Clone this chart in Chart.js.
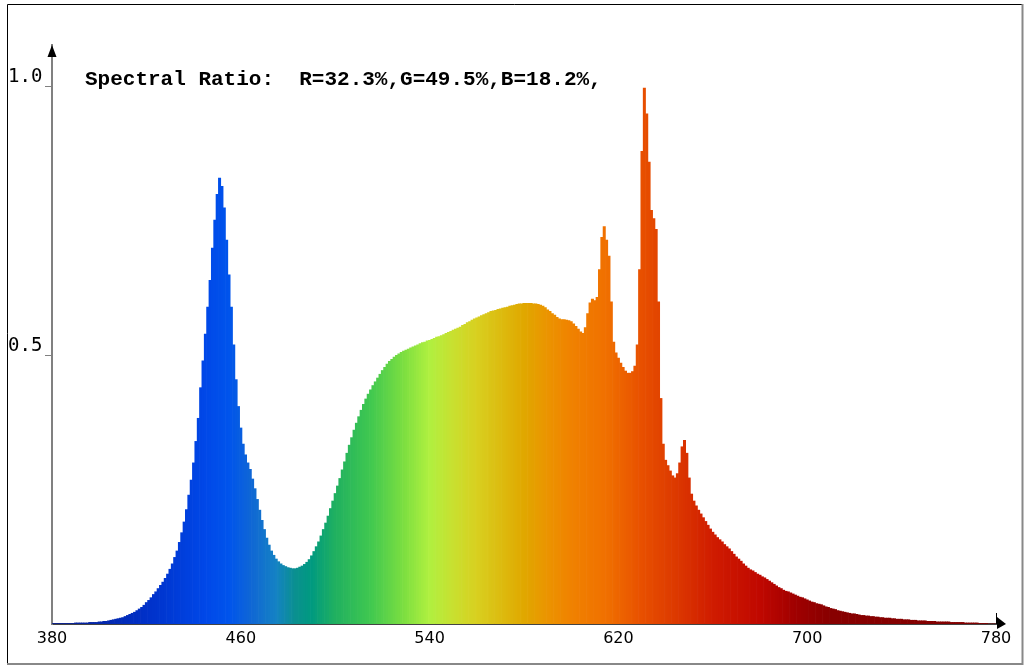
<!DOCTYPE html>
<html>
<head>
<meta charset="utf-8">
<script src="https://cdn.jsdelivr.net/npm/chart.js@4.4.0/dist/chart.umd.min.js"></script>
<style>
  html, body { margin: 0; padding: 0; background: #fff; }
  #wrap { width: 1025px; height: 669px; }
</style>
</head>
<body>
<div id="wrap"><canvas id="spectrumChart" width="1025" height="669"></canvas></div>
<script>
// wavelength range, nm
const wlStart = 380;
const wlEnd = 780;
const xTickLabels = [380, 460, 540, 620, 700, 780];
const yTickLabels = [0.5, 1.0];
const titleText = 'Spectral Ratio:  R=32.3%,G=49.5%,B=18.2%,';

// relative intensity, one value per nm (380..780)
const intensity380 = [0.001,0.001,0.001,0.001,0.001,0.001,0.001,0.001,0.001,0.001,0.002,0.002,0.002,0.002,0.002,0.002,0.003,0.003,0.003,0.003];
const intensity400 = [0.004,0.004,0.005,0.005,0.006,0.007,0.008,0.009,0.010,0.011,0.012,0.014,0.016,0.018,0.020,0.022,0.025,0.028,0.031,0.035];
const intensity420 = [0.040,0.044,0.049,0.055,0.060,0.066,0.072,0.078,0.085,0.093,0.102,0.112,0.124,0.136,0.152,0.170,0.190,0.213,0.240,0.268];
const intensity440 = [0.300,0.340,0.383,0.440,0.490,0.540,0.590,0.640,0.700,0.752,0.800,0.830,0.815,0.775,0.715,0.650,0.590,0.520,0.455,0.405];
const intensity460 = [0.365,0.335,0.315,0.300,0.288,0.270,0.252,0.232,0.212,0.193,0.176,0.160,0.147,0.136,0.128,0.121,0.116,0.112,0.109,0.107];
const intensity480 = [0.105,0.104,0.103,0.103,0.104,0.106,0.108,0.111,0.115,0.120,0.127,0.135,0.144,0.153,0.164,0.176,0.188,0.201,0.215,0.229];
const intensity500 = [0.243,0.257,0.271,0.287,0.302,0.318,0.333,0.347,0.361,0.374,0.386,0.398,0.409,0.419,0.428,0.436,0.444,0.451,0.458,0.465];
const intensity520 = [0.472,0.478,0.484,0.489,0.493,0.497,0.500,0.503,0.506,0.508,0.510,0.512,0.514,0.516,0.518,0.520,0.522,0.524,0.525,0.527];
const intensity540 = [0.528,0.530,0.532,0.534,0.535,0.537,0.539,0.541,0.543,0.545,0.547,0.549,0.551,0.553,0.556,0.558,0.561,0.563,0.566,0.568];
const intensity560 = [0.570,0.572,0.574,0.576,0.578,0.580,0.582,0.583,0.584,0.586,0.587,0.588,0.589,0.590,0.592,0.593,0.594,0.595,0.596,0.596];
const intensity580 = [0.597,0.597,0.597,0.597,0.596,0.596,0.595,0.594,0.592,0.589,0.585,0.582,0.578,0.575,0.571,0.568,0.567,0.567,0.566,0.565];
const intensity600 = [0.563,0.559,0.554,0.549,0.544,0.541,0.552,0.578,0.598,0.605,0.602,0.608,0.660,0.720,0.740,0.715,0.685,0.600,0.525,0.505];
const intensity620 = [0.495,0.486,0.478,0.471,0.467,0.467,0.470,0.480,0.520,0.660,0.880,0.998,0.950,0.860,0.770,0.755,0.735,0.600,0.420,0.335];
const intensity640 = [0.305,0.295,0.285,0.276,0.272,0.280,0.300,0.330,0.342,0.318,0.272,0.242,0.229,0.220,0.212,0.205,0.198,0.191,0.184,0.177];
const intensity660 = [0.171,0.166,0.161,0.157,0.153,0.148,0.144,0.140,0.135,0.130,0.125,0.121,0.117,0.112,0.108,0.104,0.101,0.099,0.096,0.093];
const intensity680 = [0.091,0.088,0.086,0.083,0.080,0.077,0.074,0.071,0.068,0.066,0.063,0.061,0.060,0.058,0.056,0.054,0.052,0.050,0.049,0.047];
const intensity700 = [0.045,0.043,0.041,0.040,0.038,0.037,0.036,0.034,0.032,0.031,0.029,0.028,0.027,0.025,0.024,0.023,0.022,0.021,0.020,0.019];
const intensity720 = [0.019,0.018,0.017,0.016,0.016,0.015,0.015,0.014,0.014,0.013,0.013,0.012,0.012,0.011,0.011,0.011,0.010,0.010,0.009,0.009];
const intensity740 = [0.009,0.008,0.008,0.008,0.007,0.007,0.007,0.006,0.006,0.006,0.006,0.005,0.005,0.005,0.005,0.004,0.004,0.004,0.004,0.004];
const intensity760 = [0.004,0.003,0.003,0.003,0.003,0.003,0.003,0.002,0.002,0.002,0.002,0.002,0.002,0.001,0.001,0.001,0.001,0,0,0,0];

const intensity = [].concat(intensity380, intensity400, intensity420, intensity440, intensity460,
    intensity480, intensity500, intensity520, intensity540, intensity560, intensity580, intensity600,
    intensity620, intensity640, intensity660, intensity680, intensity700, intensity720, intensity740, intensity760);

const wavelengths = [];
for (let w = wlStart; w <= wlEnd; w++) wavelengths.push(w);

// colour ramp for the bars (wavelength -> rgb)
const colorStops = [
    [380, [10, 30, 140]], [420, [0, 48, 200]], [445, [0, 72, 232]], [455, [0, 84, 236]],
    [465, [16, 104, 212]], [475, [20, 130, 196]], [483, [10, 144, 144]], [490, [0, 154, 128]],
    [500, [32, 176, 96]], [515, [64, 200, 80]], [530, [128, 224, 64]], [540, [176, 240, 64]],
    [550, [200, 224, 48]], [560, [216, 208, 32]], [570, [220, 188, 16]], [580, [224, 168, 0]],
    [590, [235, 148, 0]], [600, [240, 130, 0]], [615, [240, 112, 0]], [630, [232, 80, 0]],
    [645, [220, 56, 0]], [660, [208, 28, 0]], [680, [192, 8, 0]], [695, [160, 0, 0]],
    [710, [136, 0, 0]], [780, [128, 0, 0]]
];

function wlColor(w) {
    for (let i = 0; i < colorStops.length - 1; i++) {
        const a = colorStops[i], b = colorStops[i + 1];
        if (w >= a[0] && w <= b[0]) {
            const t = (w - a[0]) / (b[0] - a[0]);
            const c = a[1].map((v, k) => Math.round(v + (b[1][k] - v) * t));
            return 'rgb(' + c.join(',') + ')';
        }
    }
    return 'rgb(128,0,0)';
}

const barColors = wavelengths.map(wlColor);

// frame, axis arrows and the ratio text
const decorations = {
    id: 'decorations',
    afterDraw(chart) {
        const c = chart.ctx;
        const area = chart.chartArea;
        const yScale = chart.scales.y;
        c.save();
        // panel frame
        c.strokeStyle = '#000';
        c.lineWidth = 1;
        c.beginPath();
        c.moveTo(7.5, 663); c.lineTo(7.5, 4.5); c.lineTo(1022, 4.5);
        c.stroke();
        c.strokeStyle = '#888';
        c.lineWidth = 2;
        c.beginPath();
        c.moveTo(1022.5, 4); c.lineTo(1022.5, 664); c.lineTo(7, 664);
        c.stroke();

        // y arrow
        c.fillStyle = '#000';
        c.beginPath();
        c.moveTo(area.left, area.top);
        c.lineTo(area.left - 4.5, area.top + 12);
        c.lineTo(area.left + 4.5, area.top + 12);
        c.closePath();
        c.fill();
        // x arrow
        c.beginPath();
        c.moveTo(area.right + 10, area.bottom);
        c.lineTo(area.right + 1, area.bottom - 7);
        c.lineTo(area.right + 1, area.bottom + 5);
        c.closePath();
        c.fill();
        c.strokeStyle = '#000';
        c.lineWidth = 1;
        c.beginPath();
        c.moveTo(area.right + 0.5, area.bottom - 11);
        c.lineTo(area.right + 0.5, area.bottom);
        c.stroke();

        // ratio text
        c.fillStyle = '#000';
        c.font = 'bold 21px "Liberation Mono", monospace';
        c.textBaseline = 'alphabetic';
        c.textAlign = 'left';
        c.fillText(titleText, 85, yScale.getPixelForValue(1.0) - 2);
        c.restore();
    }
};

const ctx = document.getElementById('spectrumChart').getContext('2d');

new Chart(ctx, {
    type: 'bar',
    data: {
        labels: wavelengths,
        datasets: [{
            label: 'Spectrum',
            data: intensity,
            backgroundColor: barColors,
            borderWidth: 0,
            barPercentage: 1.0,
            categoryPercentage: 1.0
        }]
    },
    options: {
        responsive: false,
        animation: false,
        plugins: {
            legend: { display: false },
            tooltip: { enabled: false }
        },
        layout: {
            padding: { left: 8, right: 29, top: 45, bottom: 0 }
        },
        scales: {
            x: {
                type: 'category',
                offset: false,
                grid: { display: false, drawTicks: false },
                border: { display: true, color: '#444', width: 2 },
                ticks: {
                    autoSkip: false,
                    maxRotation: 0,
                    padding: 5,
                    color: '#000',
                    font: { family: '"DejaVu Sans", sans-serif', size: 16 },
                    callback: function (value) {
                        const w = Number(this.getLabelForValue(value));
                        return xTickLabels.includes(w) ? String(w) : null;
                    }
                },
                afterFit: function (scale) { scale.height = 45; }
            },
            y: {
                min: 0,
                max: 1.078,
                grid: { drawOnChartArea: false, drawTicks: true, tickLength: 7, color: '#808080', lineWidth: 1 },
                border: { display: true, color: '#808080', width: 2 },
                ticks: {
                    align: 'end',
                    crossAlign: 'far',
                    padding: 0,
                    color: '#000',
                    font: { family: '"DejaVu Sans Mono", monospace', size: 19 },
                    callback: (v) => Number(v).toFixed(1)
                },
                afterBuildTicks: function (scale) {
                    scale.ticks = yTickLabels.map(v => ({ value: v }));
                },
                afterFit: function (scale) { scale.width = 44; }
            }
        }
    },
    plugins: [decorations]
});
</script>
</body>
</html>
